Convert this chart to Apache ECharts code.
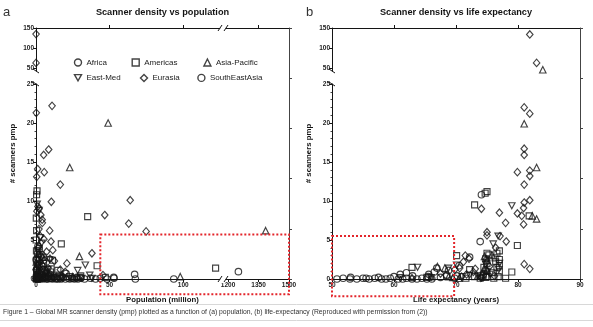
<!DOCTYPE html>
<html>
<head>
<meta charset="utf-8">
<script src="https://cdn.jsdelivr.net/npm/echarts@6/dist/echarts.min.js"></script>
<style>
html,body{margin:0;padding:0;background:#fff;}
#c{width:593px;height:327px;}
</style>
</head>
<body>
<div id="c"></div>
<script>
// ---------- categories ----------
const regions = ['Africa', 'Americas', 'Asia-Pacific', 'East-Med', 'Eurasia', 'SouthEastAsia'];

// ---------- (a) population (million) vs scanners pmp ----------
const popAfrica = [[0.9,0],[1.2,0.1],[1.8,0],[2.1,0.3],[2.5,0],[4.3,0.1],[4.5,0],[5.5,0.2],[7,0],[10.5,0.1],[11,0],[12,0.2],[13.5,0],[14,0.1],[15,0],[16.5,0.1],[17,0],[18.5,0.2],[20,0],[22,0.1],[23,0],[24.5,0.1],[26,0],[27.5,0.1],[33,0],[37,0.1],[43.7,0.1],[48.3,0],[52.8,0.2],[67.5,0],[93.6,0],[1.3,4.2],[2.1,1.8],[0.1,2.5],[0.5,1.1],[0.9,0.6],[2,0.3],[3.8,0.5],[8.8,0.4],[6.3,0.6],[0.2,0],[3.2,0.1],[6.1,0.2],[8.1,0],[9.5,0.1],[1.5,0.4],[28.5,0],[30.5,0.1],[40.5,0]];
const popAmericas = [[0.7,11.3],[0.4,10.8],[35.1,8.0],[17.2,4.5],[122,1.4],[0.3,3.6],[0.1,5.0],[3.4,3.1],[0.3,2.4],[4.8,2.8],[10.3,1.3],[3.5,1.0],[6.8,0.7],[2.8,0.4],[15.7,0.5],[16.3,0.2],[30.4,0.4],[47.1,0.2],[10.4,0.1],[6.1,0.1],[8.5,0.3],[0.3,0.2],[0.1,0.1],[29.9,0.2],[41.5,1.7],[1.3,1.9],[0.6,0.9],[2.3,3.9],[0.4,6.2],[0.2,7.8],[1.0,3.2],[2.0,2.5],[0.8,1.4],[5.1,2.0],[3.9,1.6],[9.8,0.9],[14.9,1.1],[0.5,0.5],[11.2,2.4]];
const popAsiaPacific = [[49,20.0],[22.9,14.3],[29.5,2.9],[98,0.3],[1385,6.2],[4.4,2.8],[0.3,0.1],[0.1,0.5],[6.6,0.4],[7,1.2],[5.4,0.2],[25,0.3],[1.8,4.4],[0.6,0],[3.1,0.9],[0.1,1.6],[0.2,2.2],[0.9,1.0]];
const popEastMed = [[33.5,1.8],[28.3,1.1],[36.5,0.5],[0.8,9.6],[2.1,8.8],[3.9,4.6],[9.3,2.5],[7.9,1.2],[1.3,1.5],[23,0.3],[4.1,0.2],[10,0.4],[18,0.1],[12,0.2],[31,0.1],[38,0.1],[2.8,5.3],[1.4,3.4]];
const popEurasia = [[0.04,135],[0.03,64],[10.9,22.2],[0.2,21.3],[8.6,16.6],[5.2,15.9],[1.1,14.1],[5.6,13.7],[0.5,13.1],[16.5,12.1],[10.4,9.9],[64,10.1],[46.7,8.2],[63,7.1],[74.8,6.1],[9.3,6.2],[10.2,4.8],[4.3,7.2],[2.9,5.5],[38,3.3],[21,2.0],[16.5,1.2],[1.3,9.3],[2.1,9.0],[0.6,8.7],[3.3,8.2],[4.2,7.6],[2.0,6.4],[5.4,5.1],[7.2,3.5],[3.6,2.9],[9.5,2.6],[4.4,1.8],[7.3,1.0],[3.0,0.8],[2.8,2.2],[8.3,1.4],[9.8,0.6],[6.8,0.3],[3.5,0.4],[17.6,0.3],[45.5,0.5],[0.4,0.2],[1.3,4.0],[1.9,3.1],[5.8,2.4],[4.9,1.2],[0.9,2.6],[11.4,3.7],[12.5,2.3],[2.6,1.3],[19.9,0.9]];
const popSouthEastAsia = [[1251,0.94],[67,0.6],[53,0.1],[27.8,0.2],[20.5,0.7],[24.9,0.1],[0.75,0.5],[0.35,1.2],[1.1,0.1]];

// ---------- (b) life expectancy (years) vs scanners pmp ----------
const lifeAfrica = [[50.8,0],[51.8,0.1],[52.9,0],[54,0],[55,0.1],[56,0],[56.9,0.1],[58,0],[58.7,0],[59.4,0.1],[60.7,0],[61.4,0],[62,0.1],[62.9,0],[63.7,0],[64.5,0.1],[65.3,0],[66.1,0],[61,0.6],[62,0.8],[65.6,0.6],[66.9,1.4],[74.8,1.1],[70.5,1.7],[72.2,2.8],[60,0.3],[63,0.4],[57.5,0.2],[55.5,0.1],[53,0.2],[68.5,0.4]];
const lifeAmericas = [[75,11.2],[74.7,11.0],[73,9.5],[81.8,8.1],[79.9,4.3],[70.1,3.0],[72.2,1.2],[79,0.9],[78,0.1],[74.5,1.5],[74.8,2.6],[76.3,2.7],[76.6,3.3],[77,3.6],[76.4,2.2],[75.8,0.8],[73.9,0.1],[74.8,0.2],[71.6,0.1],[73,0.3],[62.9,1.5],[65.3,0.2],[76.6,1.5],[74.4,0.5],[75.3,3.1],[76.8,0.3],[75,3.3],[75,2.0],[75,1.0],[75,0.3],[77,2.5],[77,1.7],[77,0.9],[76.1,0.1]];
const lifeAsiaPacific = [[84,47],[81,19.9],[83,14.3],[83,7.7],[82.3,8.1],[74.6,2.9],[74.5,1.3],[68.2,1.4],[67,1.6],[69.5,0.2],[62.9,0.2],[75.8,3.1],[68.8,0.3],[73.5,0.4],[66,0.3],[70.5,0.1],[75,2.4],[75,1.1]];
const lifeEastMed = [[79,9.4],[76,4.5],[70.1,1.8],[63.8,1.5],[74.8,1.9],[76.9,1.2],[72.2,0.5],[73.5,0.4],[68.8,1.4],[75.5,0.6],[77,2.0],[76.8,5.5],[61,0.2],[74,0.1],[71,0.3],[66,0.2]];
const lifeEurasia = [[81.9,134],[83,64],[81,22.0],[81.9,21.2],[81,16.7],[81,15.9],[79.9,13.7],[81.9,13.9],[81.9,13.2],[81,12.1],[81.9,10.1],[81,9.8],[80.9,9.1],[79.9,8.4],[80.6,8.1],[78,7.2],[80.9,7.0],[77.1,5.5],[78.1,4.8],[81,1.9],[81.9,1.3],[74.1,9.0],[77,8.5],[72.1,2.6],[71.2,2.2],[70.6,1.4],[75,6.0],[75,5.6],[71.7,0.6],[73.1,1.3],[74.9,2.5],[76.4,4.0],[70.9,0.3],[72.8,0.9],[74.1,0.2],[67.5,0.7],[69.8,1.2],[76.2,0.4],[75.4,1.6],[71.5,3.0]];
const lifeSouthEastAsia = [[74.1,10.8],[73.9,4.8],[66.5,0.9],[74.4,0.6],[68.8,1.1],[69.8,0.1],[74.2,0.2],[68.5,0.5],[65.5,0.3],[67.5,0.2],[70.2,0.4]];

// ---------- tick labels ----------
const popTicksLow = [0, 50, 100];
const popTicksHigh = [1200, 1350, 1500];
const lifeTicks = [50, 60, 70, 80, 90];
const densityTicksLow = [0, 5, 10, 15, 20, 25];
const densityTicksHigh = [50, 100, 150];

const popData = [popAfrica, popAmericas, popAsiaPacific, popEastMed, popEurasia, popSouthEastAsia];
const lifeData = [lifeAfrica, lifeAmericas, lifeAsiaPacific, lifeEastMed, lifeEurasia, lifeSouthEastAsia];

// ---------- styling ----------
const FONT = 'Liberation Sans';
const INK = '#141414';
const INV_TRIANGLE = 'path://M0,0L10,0L5,8.66Z';
const markers = {
  'Africa': { symbol: 'circle', size: 6.5 },
  'Americas': { symbol: 'rect', size: 6 },
  'Asia-Pacific': { symbol: 'triangle', size: [6.5, 6.5] },
  'East-Med': { symbol: INV_TRIANGLE, size: [6.5, 6] },
  'Eurasia': { symbol: 'diamond', size: [6.5, 7.5] },
  'SouthEastAsia': { symbol: 'circle', size: 6.5 }
};
const plain = v => String(v);
const tickLabel = { fontFamily: FONT, fontSize: 6.5, fontWeight: 'bold', color: '#222', formatter: plain };
const line = { color: INK, width: 1 };

// axis ranges of the broken scales
const POP_LOW = [0, 125], POP_HIGH = [1190, 1500];
const LIFE = [50, 90];
const DENS_LOW = [0, 25], DENS_HIGH = [44, 150];

const gridBase = { outerBoundsMode: 'none', containLabel: false };
const grids = [
  { left: 36, top: 84, width: 184, height: 195 },   // a: lower-left
  { left: 226, top: 84, width: 63, height: 195 },   // a: lower-right
  { left: 36, top: 28, width: 184, height: 43 },    // a: upper-left
  { left: 226, top: 28, width: 63, height: 43 },    // a: upper-right
  { left: 36, top: 28, width: 253, height: 251 },   // a: frame
  { left: 332, top: 84, width: 248, height: 195 },  // b: lower
  { left: 332, top: 28, width: 248, height: 43 },   // b: upper
  { left: 332, top: 28, width: 248, height: 251 }   // b: frame
].map(g => Object.assign({}, gridBase, g));

function valueAxis(o) {
  return Object.assign({
    type: 'value',
    axisLine: { show: true, onZero: false, lineStyle: line },
    axisTick: { show: true, length: 3, lineStyle: line },
    axisLabel: Object.assign({ margin: 3 }, tickLabel),
    splitLine: { show: false },
    silent: true
  }, o);
}
function hiddenAxis(o) {
  return Object.assign({ type: 'value', show: false, splitLine: { show: false } }, o);
}

const xAxis = [
  // 0 a lower-left
  valueAxis({ gridIndex: 0, min: POP_LOW[0], max: POP_LOW[1],
    axisLabel: Object.assign({ margin: 3, customValues: popTicksLow }, tickLabel),
    axisTick: { show: true, length: 3, lineStyle: line, customValues: popTicksLow } }),
  // 1 a lower-right
  valueAxis({ gridIndex: 1, min: POP_HIGH[0], max: POP_HIGH[1],
    axisLabel: Object.assign({ margin: 3, customValues: popTicksHigh }, tickLabel),
    axisTick: { show: true, length: 3, lineStyle: line, customValues: popTicksHigh } }),
  // 2,3 upper halves share the x scales
  hiddenAxis({ gridIndex: 2, min: POP_LOW[0], max: POP_LOW[1] }),
  hiddenAxis({ gridIndex: 3, min: POP_HIGH[0], max: POP_HIGH[1] }),
  // 4,5 top border of panel a
  valueAxis({ gridIndex: 0, position: 'top', offset: 56, min: POP_LOW[0], max: POP_LOW[1],
    axisLabel: { show: false },
    axisTick: { show: true, length: 3, lineStyle: line, customValues: [50, 100] } }),
  valueAxis({ gridIndex: 1, position: 'top', offset: 56, min: POP_HIGH[0], max: POP_HIGH[1],
    axisLabel: { show: false },
    axisTick: { show: true, length: 3, lineStyle: line, customValues: [1350] } }),
  // 6 panel a x title
  { type: 'value', gridIndex: 4, min: 0, max: 1, axisLine: { show: false }, axisTick: { show: false },
    axisLabel: { show: false }, splitLine: { show: false },
    name: 'Population (million)', nameLocation: 'middle', nameGap: 16.5,
    nameTextStyle: { fontFamily: FONT, fontSize: 7.8, fontWeight: 'bold', color: INK } },
  // 7 b lower
  valueAxis({ gridIndex: 5, min: LIFE[0], max: LIFE[1], interval: 10,
    axisLabel: Object.assign({ margin: 3, customValues: lifeTicks }, tickLabel),
    axisTick: { show: true, length: 3, lineStyle: line, customValues: lifeTicks } }),
  // 8 b upper
  hiddenAxis({ gridIndex: 6, min: LIFE[0], max: LIFE[1] }),
  // 9 top border of panel b
  valueAxis({ gridIndex: 5, position: 'top', offset: 56, min: LIFE[0], max: LIFE[1],
    axisLabel: { show: false },
    axisTick: { show: true, length: 3, lineStyle: line, customValues: [60, 70, 80] } }),
  // 10 panel b x title
  { type: 'value', gridIndex: 7, min: 0, max: 1, axisLine: { show: false }, axisTick: { show: false },
    axisLabel: { show: false }, splitLine: { show: false },
    name: 'Life expectancy (years)', nameLocation: 'middle', nameGap: 16.5,
    nameTextStyle: { fontFamily: FONT, fontSize: 7.8, fontWeight: 'bold', color: INK } }
];

function lowY(grid) {
  return valueAxis({ gridIndex: grid, min: DENS_LOW[0], max: DENS_LOW[1], interval: 5,
    axisLabel: Object.assign({ margin: 2, customValues: densityTicksLow }, tickLabel),
    axisTick: { show: true, length: 3, lineStyle: line },
    minorTick: { show: true, splitNumber: 5, length: 1.5, lineStyle: { color: INK, width: 0.8 } } });
}
function highY(grid) {
  return valueAxis({ gridIndex: grid, min: DENS_HIGH[0], max: DENS_HIGH[1],
    axisLabel: Object.assign({ margin: 2, customValues: densityTicksHigh }, tickLabel),
    axisTick: { show: true, length: 3, lineStyle: line, customValues: densityTicksHigh } });
}
function titleY(grid) {
  return { type: 'value', gridIndex: grid, min: 0, max: 1, axisLine: { show: false }, axisTick: { show: false },
    axisLabel: { show: false }, splitLine: { show: false },
    name: '# scanners pmp', nameLocation: 'middle', nameGap: 19,
    nameTextStyle: { fontFamily: FONT, fontSize: 7.8, fontWeight: 'bold', color: INK } };
}
function rightFrame(grid) {
  return { type: 'value', gridIndex: grid, position: 'right', min: 0, max: 5, interval: 1,
    axisLine: { show: true, lineStyle: { color: '#444', width: 1 } },
    axisTick: { show: true, length: 3, lineStyle: { color: '#444', width: 1 } },
    axisLabel: { show: false }, splitLine: { show: false } };
}

const yAxis = [
  lowY(0),                                                   // 0
  hiddenAxis({ gridIndex: 1, min: DENS_LOW[0], max: DENS_LOW[1] }),   // 1
  highY(2),                                                  // 2
  hiddenAxis({ gridIndex: 3, min: DENS_HIGH[0], max: DENS_HIGH[1] }), // 3
  titleY(4),                                                 // 4
  rightFrame(4),                                             // 5
  lowY(5),                                                   // 6
  highY(6),                                                  // 7
  titleY(7),                                                 // 8
  rightFrame(7)                                              // 9
];

// ---------- series: each region is split over the broken-axis panes ----------
const series = [];
function addSeries(name, data, x, y) {
  const m = markers[name];
  series.push({
    type: 'scatter', name, data, xAxisIndex: x, yAxisIndex: y,
    symbol: m.symbol, symbolSize: m.size,
    itemStyle: { color: 'rgba(255,255,255,0)', borderColor: INK, borderWidth: 1.15 },
    emphasis: { disabled: true }, silent: true, clip: false, animation: false
  });
}
regions.forEach((name, i) => {
  const a = popData[i];
  const isHigh = p => p[1] > DENS_LOW[1];
  const isRight = p => p[0] > POP_LOW[1];
  addSeries(name, a.filter(p => !isHigh(p) && !isRight(p)), 0, 0);
  addSeries(name, a.filter(p => !isHigh(p) && isRight(p)), 1, 1);
  addSeries(name, a.filter(p => isHigh(p) && !isRight(p)), 2, 2);
  addSeries(name, a.filter(p => isHigh(p) && isRight(p)), 3, 3);
  const b = lifeData[i];
  addSeries(name, b.filter(p => !isHigh(p)), 7, 6);
  addSeries(name, b.filter(p => isHigh(p)), 8, 7);
});

// ---------- legend: two rows of three ----------
const legendIcons = {
  'Africa': 'circle', 'Americas': 'rect', 'Asia-Pacific': 'triangle',
  'East-Med': INV_TRIANGLE, 'Eurasia': 'diamond', 'SouthEastAsia': 'circle'
};
const legendSpots = [[73.8, 58.3], [131.5, 58.3], [203.2, 58.3], [73.8, 73.7], [139.8, 73.7], [197.2, 73.7]];
const legend = regions.map((name, i) => ({
  data: [{ name, icon: legendIcons[name] }],
  left: legendSpots[i][0], top: legendSpots[i][1], padding: 0,
  itemWidth: 7, itemHeight: 7, itemGap: 0, selectedMode: false,
  itemStyle: { color: 'rgba(255,255,255,0)', borderColor: INK, borderWidth: 1.4 },
  textStyle: { fontFamily: FONT, fontSize: 8, color: '#222', lineHeight: 8 }
}));

const chart = echarts.init(document.getElementById('c'), null, { renderer: 'canvas' });
chart.setOption({
  animation: false,
  backgroundColor: '#fff',
  grid: grids,
  xAxis, yAxis, series, legend
});

// ---------- annotations placed through the axes ----------
const X = (i, v) => chart.convertToPixel({ xAxisIndex: i }, v);
const Y = (i, v) => chart.convertToPixel({ yAxisIndex: i }, v);
const red = { stroke: '#e3252b', lineWidth: 2, lineDash: [2, 2], fill: null };
const gfx = [];

function box(x0, x1, y0, y1) {
  gfx.push({ type: 'rect', shape: { x: x0, y: y0, width: x1 - x0, height: y1 - y0 }, style: red, z: 20, silent: true });
}
// highlighted low-density region, panel a and panel b
box(X(0, 43.7), X(1, 1500), Y(0, 5.7), Y(0, -1.95));
box(X(7, 50), X(7, 69.7), Y(6, 5.5), Y(6, -2.2));

function slash(x0, y0, x1, y1) {
  gfx.push({ type: 'line', shape: { x1: x0, y1: y0, x2: x1, y2: y1 }, style: { stroke: INK, lineWidth: 1 }, z: 20, silent: true });
}
// y-axis breaks (25 → 50) on both panels
[[0, 2, 0], [6, 7, 7]].forEach(([lo, hi, xi]) => {
  const ax = X(xi, xi === 0 ? 0 : 50);
  const yTop = Y(lo, 25), yBot = Y(hi, 44);
  slash(ax - 3, yBot - 2, ax + 3, yBot + 2);
  slash(ax - 3, yTop - 2, ax + 3, yTop + 2);
});
// x-axis break (125 → 1190) on panel a, bottom and top edges
[Y(0, 0), Y(2, 150)].forEach(yy => {
  const xl = X(0, 125), xr = X(1, 1190);
  gfx.push({ type: 'rect', shape: { x: xl + 0.5, y: yy - 4, width: xr - xl - 1, height: 8 }, style: { fill: '#fff' }, z: 19, silent: true });
  slash(xl - 2, yy + 3, xl + 2, yy - 3);
  slash(xr - 2, yy + 3, xr + 2, yy - 3);
});

const titleFont = { fontFamily: FONT, fontSize: 9.2, fontWeight: 'bold', fill: INK, align: 'center', verticalAlign: 'middle' };
gfx.push({ type: 'text', x: X(0, 0) + 253 / 2, y: 12.5, style: Object.assign({ text: 'Scanner density vs population' }, titleFont) });
gfx.push({ type: 'text', x: X(7, 70), y: 12.5, style: Object.assign({ text: 'Scanner density vs life expectancy' }, titleFont) });
gfx.push({ type: 'text', x: 3, y: 12, style: { text: 'a', fontFamily: FONT, fontSize: 13, fill: '#333', verticalAlign: 'middle' } });
gfx.push({ type: 'text', x: 306, y: 12, style: { text: 'b', fontFamily: FONT, fontSize: 13, fill: '#333', verticalAlign: 'middle' } });

// figure caption between two thin rules
gfx.push({ type: 'line', shape: { x1: 0, y1: 304.5, x2: 593, y2: 304.5 }, style: { stroke: '#d8d8d8', lineWidth: 1 } });
gfx.push({ type: 'line', shape: { x1: 0, y1: 320.5, x2: 593, y2: 320.5 }, style: { stroke: '#d8d8d8', lineWidth: 1 } });
gfx.push({ type: 'text', x: 3, y: 312.5, style: {
  text: 'Figure 1 \u2013 Global MR scanner density (pmp) plotted as a function of (a) population, (b) life-expectancy (Reproduced with permission from (2))',
  fontFamily: FONT, fontSize: 6.8, fill: '#333', verticalAlign: 'middle' } });

chart.setOption({ graphic: gfx });
</script>
</body>
</html>
